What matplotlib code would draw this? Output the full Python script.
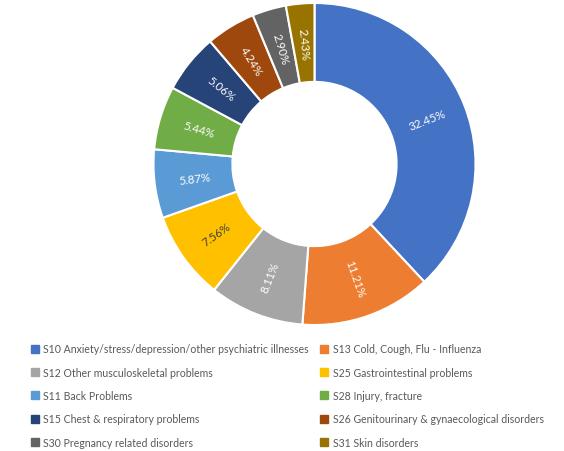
import numpy as np
import matplotlib
matplotlib.use('Agg')
import matplotlib.pyplot as plt
from matplotlib.lines import Line2D

# sickness absence reasons, share of all days lost
codes = ['S10', 'S13', 'S12', 'S25', 'S11', 'S28', 'S15', 'S26', 'S30', 'S31']
reasons = [
    'Anxiety/stress/depression/other psychiatric illnesses',
    'Cold, Cough, Flu - Influenza',
    'Other musculoskeletal problems',
    'Gastrointestinal problems',
    'Back Problems',
    'Injury, fracture',
    'Chest & respiratory problems',
    'Genitourinary & gynaecological disorders',
    'Pregnancy related disorders',
    'Skin disorders',
]
shares = [32.45, 11.21, 8.11, 7.56, 5.87, 5.44, 5.06, 4.24, 2.90, 2.43]

colors = ['#4472C4', '#ED7D31', '#A5A5A5', '#FFC000', '#5B9BD5',
          '#70AD47', '#264478', '#9E480E', '#636363', '#997300']
label_colors = ['white'] * len(shares)
label_colors[3] = '#404040'

plt.rcParams['font.family'] = ['Lato', 'DejaVu Sans']

W, H = 564, 452
fig = plt.figure(figsize=(W / 100, H / 100), dpi=100)

cx, cy, R = 314.5, 165, 161
ax = fig.add_axes([(cx - R) / W, (H - cy - R) / H, 2 * R / W, 2 * R / H])
wedges, _ = ax.pie(shares, colors=colors, startangle=90, counterclock=False,
                   radius=1.0,
                   wedgeprops=dict(width=0.49, edgecolor='white', linewidth=1.5))
ax.set_xlim(-1, 1)
ax.set_ylim(-1, 1)
ax.set_aspect('equal')
ax.axis('off')

# value labels, turned along the radius of each slice
for w, v, tc in zip(wedges, shares, label_colors):
    mid = 0.5 * (w.theta1 + w.theta2)
    x = 0.75 * np.cos(np.radians(mid))
    y = 0.75 * np.sin(np.radians(mid))
    rot = mid % 360
    if 90 < rot < 270:
        rot -= 180
    ax.text(x, y, '%.2f%%' % v, rotation=rot, rotation_mode='anchor',
            ha='center', va='center', fontsize=8.3, color=tc)

# legend: two columns, filled row by row
handles = [Line2D([], [], marker='s', linestyle='none', markersize=5.5,
                  markerfacecolor=c, markeredgecolor=c) for c in colors]
labels = ['%s %s' % (c, r) for c, r in zip(codes, reasons)]
for col, x0 in ((0, 25), (1, 315)):
    idx = list(range(col, len(labels), 2))
    leg = fig.legend([handles[i] for i in idx], [labels[i] for i in idx],
                     loc='upper left', bbox_to_anchor=(x0 / W, 1 - 339 / H),
                     frameon=False, fontsize=7.6, handlelength=0.8,
                     handletextpad=0.45, labelspacing=1.17, borderpad=0)
    for t in leg.get_texts():
        t.set_color('#595959')

fig.savefig('out.png', dpi=100)
